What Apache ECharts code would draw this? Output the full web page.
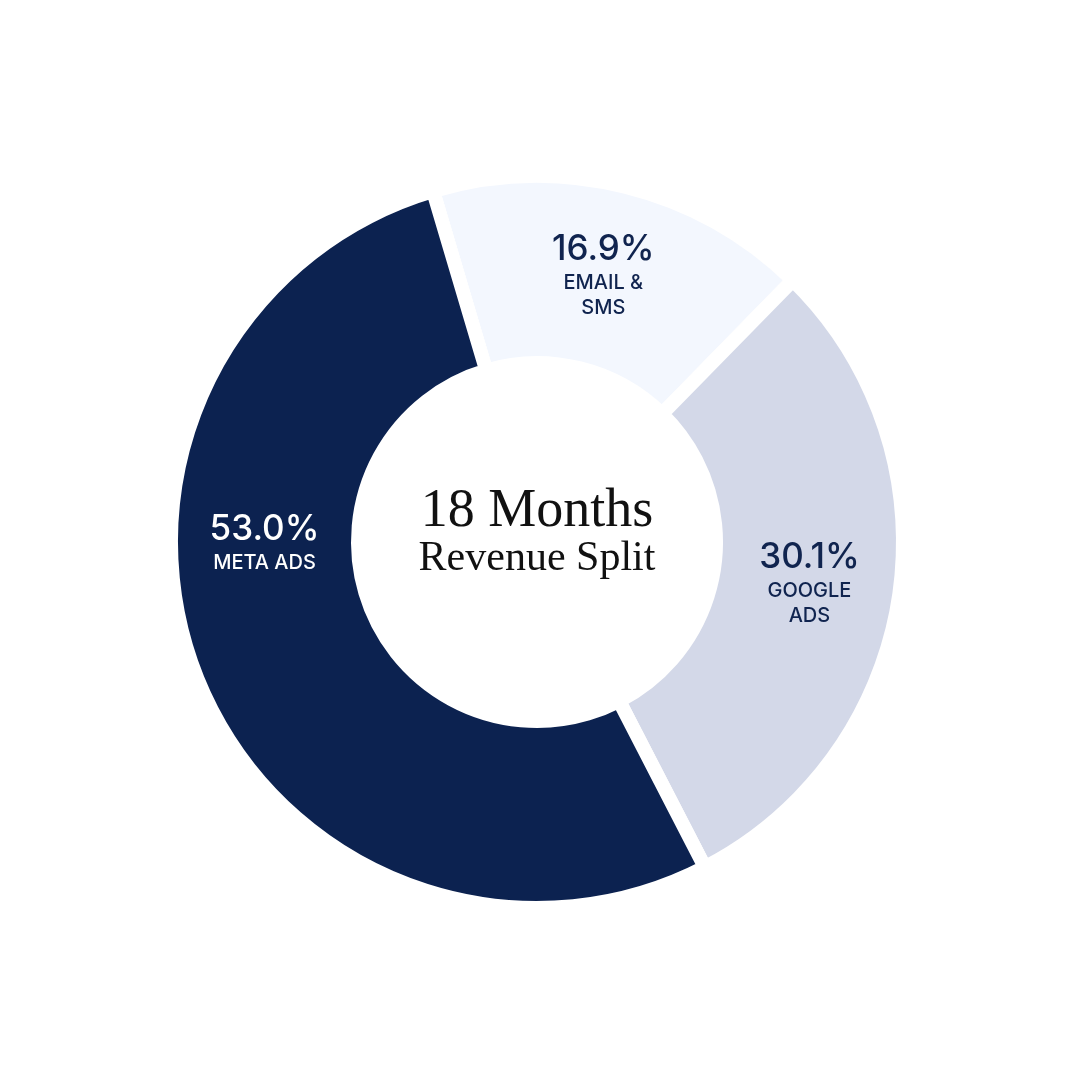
<!DOCTYPE html>
<html>
<head>
<meta charset="utf-8">
<title>18 Months Revenue Split</title>
<script src="https://cdn.jsdelivr.net/npm/echarts@6/dist/echarts.min.js"></script>
<style>
  html, body { margin: 0; padding: 0; background: #ffffff; }
  #main { width: 1080px; height: 1080px; }
</style>
</head>
<body>
<div id="main"></div>
<script>
// data, clockwise from the top-left
var channels = ['Email & SMS', 'Google Ads', 'Meta Ads'];
var shares = [16.9, 30.1, 53.0];
var labelNames = ['EMAIL &\nSMS', 'GOOGLE\nADS', 'META ADS'];
var sliceColors = ['#f3f7fe', '#d3d8e8', '#0c2250'];
var textColors = ['#10244f', '#10244f', '#ffffff'];

var CX = 537, CY = 542;      // ring centre
var R_IN = 179, R_OUT = 366; // radius incl. white border
var LABEL_R = (R_IN + R_OUT) / 2;

var chart = echarts.init(document.getElementById('main'), null, { renderer: 'canvas' });

var pieData = channels.map(function (name, i) {
    return {
        name: name,
        value: shares[i],
        itemStyle: { color: sliceColors[i] },
        label: {
            formatter: '{p|' + shares[i].toFixed(1) + '%}\n{n|' + labelNames[i].split('\n').join('}\n{n|') + '}',
            rich: {
                p: { fontSize: 35, fontWeight: 500, fontFamily: 'Inter', color: textColors[i], lineHeight: 42, align: 'center' },
                n: { fontSize: 20, fontWeight: 500, fontFamily: 'Inter', color: textColors[i], lineHeight: 25, align: 'center' }
            }
        }
    };
});

chart.setOption({
    backgroundColor: '#ffffff',
    animation: false,
    graphic: [
        {
            type: 'text', x: CX, y: CY - 30,
            style: { text: '18 Months', fill: '#111111', font: '54px "Liberation Serif", serif', textAlign: 'center', textVerticalAlign: 'middle' }
        },
        {
            type: 'text', x: CX, y: CY + 17,
            style: { text: 'Revenue Split', fill: '#111111', font: '42px "Liberation Serif", serif', textAlign: 'center', textVerticalAlign: 'middle' }
        }
    ],
    series: [{
        type: 'pie',
        center: [CX, CY],
        radius: [R_IN, R_OUT],
        startAngle: 106.5,
        clockwise: true,
        avoidLabelOverlap: false,
        itemStyle: { borderColor: '#ffffff', borderWidth: 14 },
        label: { show: true, position: 'inside' },
        labelLine: { show: false },
        emphasis: { scale: false, disabled: true },
        // the big slice keeps its label on the horizontal line
        labelLayout: function (params) {
            if (channels[params.dataIndex] === 'Meta Ads') {
                return { x: CX - LABEL_R, y: CY, align: 'center', verticalAlign: 'middle' };
            }
            return {};
        },
        data: pieData
    }]
});
</script>
</body>
</html>
